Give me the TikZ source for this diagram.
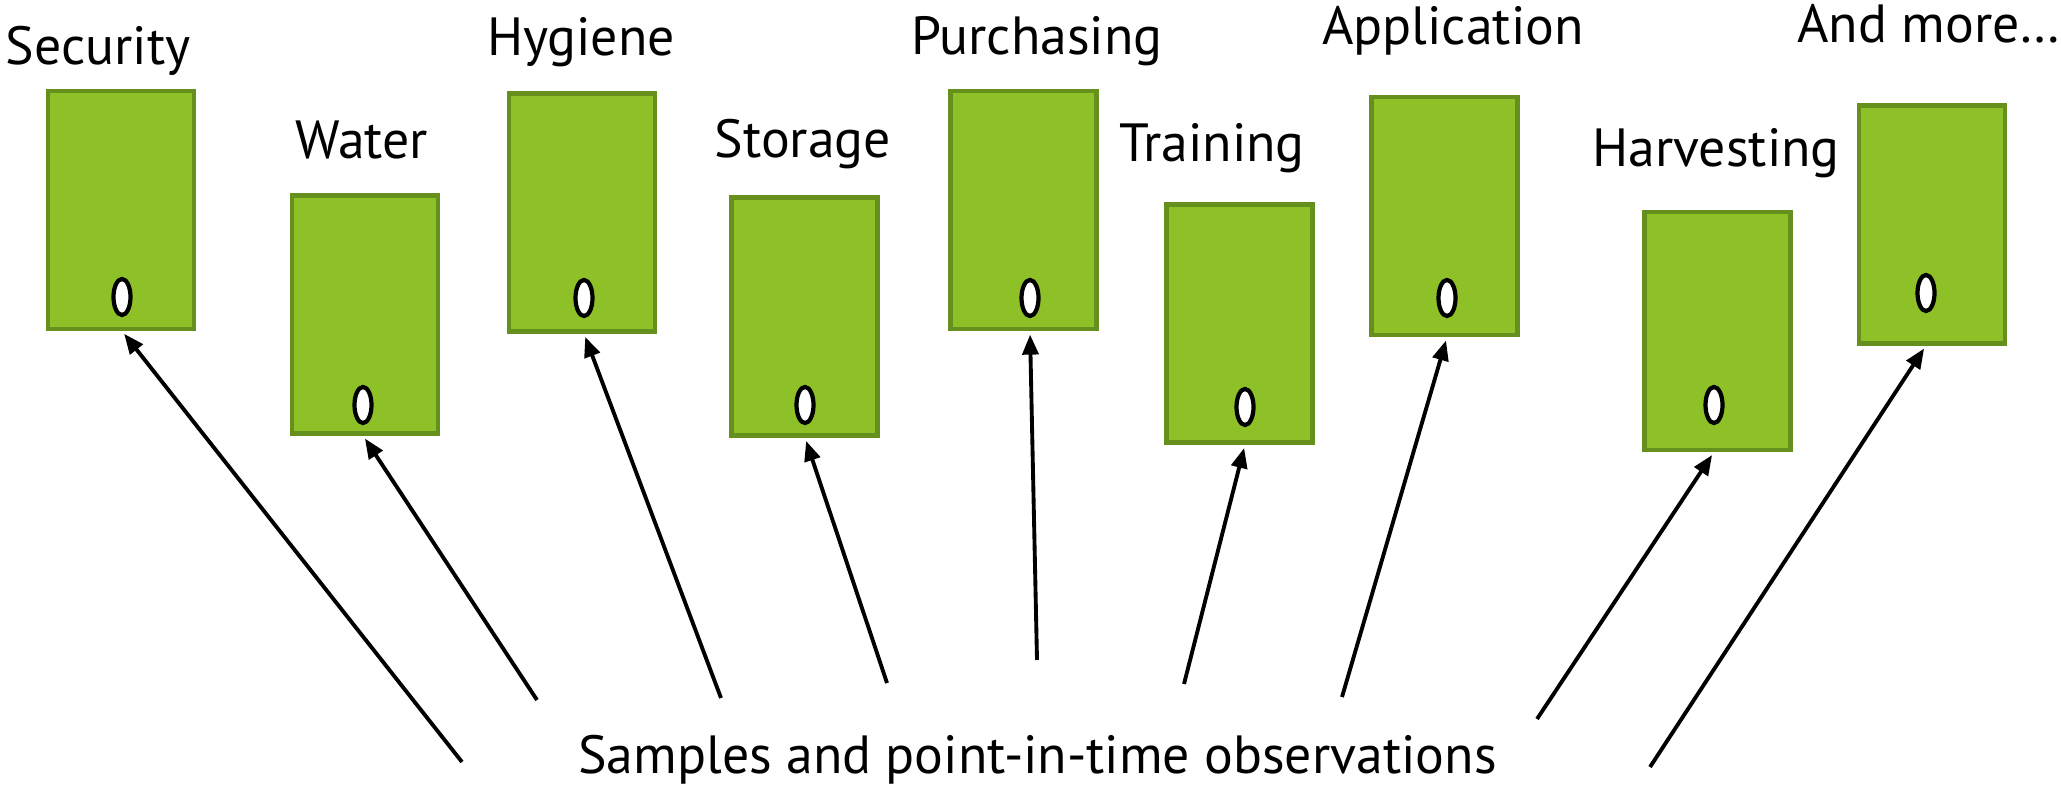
\documentclass[tikz,border=0pt]{standalone}
\usepackage{fontspec}
\setmainfont{PT Sans}
\usetikzlibrary{arrows.meta,shapes.geometric}
\definecolor{boxgreen}{RGB}{142,193,39}
\definecolor{boxedge}{RGB}{102,144,30}

\begin{document}
\begin{tikzpicture}[box/.style={rectangle, draw=boxedge, line width=1.2pt, fill=boxgreen, minimum width=1.46cm, minimum height=2.38cm, inner sep=0pt},
  hole/.style={ellipse, draw, fill=white, line width=1.2pt, minimum width=0.17cm, minimum height=0.36cm, inner sep=0pt},
  lbl/.style={anchor=base, inner sep=0pt, font=\fontsize{15.3}{18}\selectfont},
  arr/.style={-{Triangle[length=0.2cm,width=0.16cm]}, line width=1.1pt, shorten >=1pt}]
  \useasboundingbox (0,0) rectangle (20.61,-7.86);
  \node[box] (b1) at (1.21,-2.10) {};
  \node[box] (b2) at (3.65,-3.145) {};
  \node[box] (b3) at (5.82,-2.125) {};
  \node[box] (b4) at (8.045,-3.165) {};
  \node[box] (b5) at (10.235,-2.10) {};
  \node[box] (b6) at (12.395,-3.235) {};
  \node[box] (b7) at (14.445,-2.16) {};
  \node[box] (b8) at (17.175,-3.31) {};
  \node[box] (b9) at (19.32,-2.245) {};
  \node[hole] (o1) at (1.22,-2.97) {};
  \node[hole] (o2) at (3.63,-4.05) {};
  \node[hole] (o3) at (5.84,-2.98) {};
  \node[hole] (o4) at (8.05,-4.05) {};
  \node[hole] (o5) at (10.30,-2.98) {};
  \node[hole] (o6) at (12.45,-4.07) {};
  \node[hole] (o7) at (14.47,-2.98) {};
  \node[hole] (o8) at (17.14,-4.05) {};
  \node[hole] (o9) at (19.26,-2.93) {};
  \node[lbl] (l1) at (0.98,-0.65) {Security};
  \node[lbl] (l2) at (3.62,-1.59) {Water};
  \node[lbl] (l3) at (5.81,-0.56) {Hygiene};
  \node[lbl] (l4) at (8.03,-1.58) {Storage};
  \node[lbl] (l5) at (10.37,-0.55) {Purchasing};
  \node[lbl] (l6) at (12.12,-1.62) {Training};
  \node[lbl] (l7) at (14.53,-0.45) {Application};
  \node[lbl] (l8) at (17.16,-1.67) {Harvesting};
  \node[lbl] (l9) at (19.29,-0.43) {And more…};
  \node[lbl] (obs) at (10.375,-7.74) {Samples and point-in-time observations};
  \coordinate (s1) at (4.62,-7.62);
  \coordinate (s2) at (5.37,-7.00);
  \coordinate (s3) at (7.21,-6.98);
  \coordinate (s4) at (8.87,-6.83);
  \coordinate (s5) at (10.37,-6.60);
  \coordinate (s6) at (11.84,-6.84);
  \coordinate (s7) at (13.42,-6.97);
  \coordinate (s8) at (15.37,-7.19);
  \coordinate (s9) at (16.50,-7.67);
  \draw[arr] (s1) -- (o1 |- b1.south);
  \draw[arr] (s2) -- (o2 |- b2.south);
  \draw[arr] (s3) -- (o3 |- b3.south);
  \draw[arr] (s4) -- (o4 |- b4.south);
  \draw[arr] (s5) -- (o5 |- b5.south);
  \draw[arr] (s6) -- (o6 |- b6.south);
  \draw[arr] (s7) -- (o7 |- b7.south);
  \draw[arr] (s8) -- (o8 |- b8.south);
  \draw[arr] (s9) -- (o9 |- b9.south);
\end{tikzpicture}
\end{document}
